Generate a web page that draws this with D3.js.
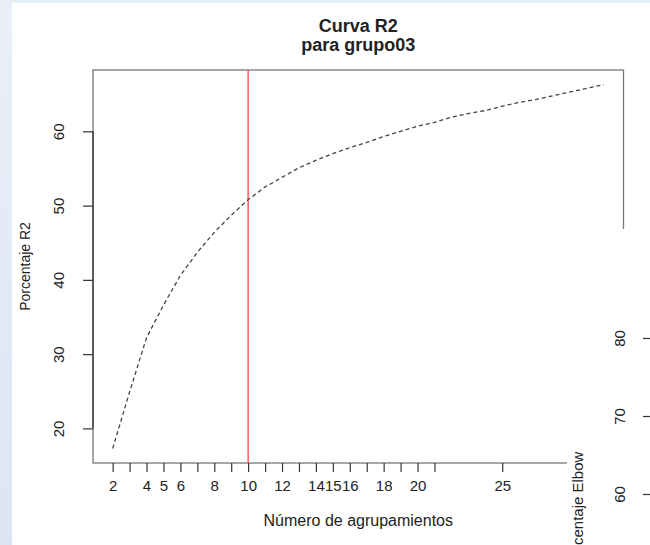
<!DOCTYPE html>
<html>
<head>
<meta charset="utf-8">
<script src="https://cdn.jsdelivr.net/npm/d3@7"></script>
<style>
  html, body { margin: 0; padding: 0; background: #fff; }
  svg { display: block; font-family: "Liberation Sans", Arial, sans-serif; }
</style>
</head>
<body>
<svg id="chart" width="650" height="545"></svg>
<script>
// numero de grupos y porcentaje R2
var clusters = [2, 3, 4, 5, 6, 7, 8, 9, 10, 11, 12, 13, 14, 15, 16, 17, 18, 19, 20, 21, 22, 23, 24, 25, 26, 27, 28, 29, 30, 31];
var r2 = [17.3, 24.9, 32.2, 36.6, 40.6, 43.7, 46.4, 48.7, 50.8, 52.5, 53.8, 55.1, 56.1, 57.0, 57.8, 58.5, 59.3, 60.0, 60.7, 61.2, 61.9, 62.4, 62.8, 63.4, 63.9, 64.3, 64.8, 65.3, 65.8, 66.3];
var elbowK = 10;

var xTicks = [2, 3, 4, 5, 6, 7, 8, 9, 10, 11, 12, 13, 14, 15, 16, 17, 18, 19, 20, 21, 25];
var xLabels = [2, 4, 5, 6, 8, 10, 12, 14, 15, 16, 18, 20, 25];
var yTicks = [20, 30, 40, 50, 60];
// eje del segundo grafico (tapado casi entero)
var elbowTicks = [60, 70, 80];

var svg = d3.select('#chart');
var plotLeft = 93, plotRight = 623.5, plotTop = 70, plotBottom = 463;
var font = '"Liberation Sans", Arial, sans-serif';

// rango extendido al 4% como hace R
var pad = function(ext) {
  var d = (ext[1] - ext[0]) * 0.04;
  return [ext[0] - d, ext[1] + d];
};

var x = d3.scaleLinear().domain(pad(d3.extent(clusters))).range([plotLeft, plotRight]);
var y = d3.scaleLinear().domain(pad(d3.extent(r2))).range([plotBottom, plotTop]);

// fondo de la captura
var grad = svg.append('defs').append('linearGradient')
  .attr('id', 'side').attr('x1', 0).attr('y1', 0).attr('x2', 0).attr('y2', 1);
grad.append('stop').attr('offset', '0%').attr('stop-color', '#eaeff8');
grad.append('stop').attr('offset', '100%').attr('stop-color', '#dde4f3');
svg.append('rect').attr('x', 0).attr('y', 0).attr('width', 650).attr('height', 3).attr('fill', '#eaf0f8');
svg.append('rect').attr('x', 0).attr('y', 0).attr('width', 12).attr('height', 545).attr('fill', 'url(#side)');

// caja
svg.append('rect')
  .attr('x', plotLeft).attr('y', plotTop)
  .attr('width', plotRight - plotLeft).attr('height', plotBottom - plotTop)
  .attr('fill', 'none').attr('stroke', '#777').attr('stroke-width', 1.3);

// linea del codo
svg.append('line')
  .attr('x1', x(elbowK)).attr('x2', x(elbowK))
  .attr('y1', plotTop).attr('y2', plotBottom)
  .attr('stroke', '#ff5a5a').attr('stroke-width', 1.5);

// curva R2
var line = d3.line()
  .x(function(d, i) { return x(clusters[i]); })
  .y(function(d) { return y(d); });

svg.append('path')
  .datum(r2)
  .attr('d', line)
  .attr('fill', 'none')
  .attr('stroke', '#444')
  .attr('stroke-width', 1.3)
  .attr('stroke-dasharray', '4,3');

// eje x
var xAxis = d3.axisBottom(x)
  .tickValues(xTicks)
  .tickSize(9)
  .tickPadding(8)
  .tickFormat(function(d) { return xLabels.indexOf(d) >= 0 ? d : ''; });

var gx = svg.append('g').attr('transform', 'translate(0,' + plotBottom + ')').call(xAxis);
gx.select('.domain').remove();
gx.selectAll('.tick line').attr('stroke', '#333').attr('stroke-width', 1.2);
gx.selectAll('.tick text').attr('font-size', 15).attr('font-family', font).attr('fill', '#222');

// eje y, etiquetas giradas como en R
var yAxis = d3.axisLeft(y).tickValues(yTicks).tickSize(10).tickFormat(d3.format('d'));
var gy = svg.append('g').attr('transform', 'translate(' + plotLeft + ',0)').call(yAxis);
gy.select('.domain')
  .attr('d', 'M0,' + y(yTicks[0]) + 'V' + y(yTicks[yTicks.length - 1]))
  .attr('stroke', '#333').attr('stroke-width', 1.3);
gy.selectAll('.tick line').attr('stroke', '#333').attr('stroke-width', 1.2);
gy.selectAll('.tick text')
  .attr('font-size', 15)
  .attr('font-family', font)
  .attr('fill', '#222')
  .attr('x', null).attr('dy', null)
  .attr('text-anchor', 'middle')
  .attr('transform', 'translate(-29,0) rotate(-90)');

// titulos
svg.append('text')
  .attr('x', (plotLeft + plotRight) / 2).attr('y', 32)
  .attr('text-anchor', 'middle').attr('font-weight', 'bold').attr('font-size', 18).attr('fill', '#222')
  .text('Curva R2');
svg.append('text')
  .attr('x', (plotLeft + plotRight) / 2).attr('y', 51)
  .attr('text-anchor', 'middle').attr('font-weight', 'bold').attr('font-size', 18).attr('fill', '#222')
  .text('para grupo03');

svg.append('text')
  .attr('x', (plotLeft + plotRight) / 2).attr('y', 526)
  .attr('text-anchor', 'middle').attr('font-size', 16).attr('fill', '#222')
  .text('Número de agrupamientos');

svg.append('text')
  .attr('transform', 'translate(30,' + (plotTop + plotBottom) / 2 + ') rotate(-90)')
  .attr('text-anchor', 'middle').attr('font-size', 14).attr('fill', '#222')
  .text('Porcentaje R2');

// segundo grafico que tapa la esquina
svg.append('rect').attr('x', 567).attr('y', 229).attr('width', 83).attr('height', 316).attr('fill', '#fff');

var yElbow = d3.scaleLinear().domain([60, 80]).range([494, 338]);
var ge = svg.append('g').attr('transform', 'translate(643,0)')
  .call(d3.axisLeft(yElbow).tickValues(elbowTicks).tickSize(-8).tickFormat(d3.format('d')));
ge.select('.domain').remove();
ge.selectAll('.tick line').attr('stroke', '#333').attr('stroke-width', 1.2);
ge.selectAll('.tick text')
  .attr('font-size', 15)
  .attr('font-family', font)
  .attr('fill', '#222')
  .attr('x', null).attr('dy', null)
  .attr('text-anchor', 'middle')
  .attr('transform', 'translate(-18,0) rotate(-90)');

svg.append('text')
  .attr('transform', 'translate(583,510) rotate(-90)')
  .attr('text-anchor', 'middle').attr('font-size', 15).attr('fill', '#222')
  .text('Porcentaje Elbow');
</script>
</body>
</html>
